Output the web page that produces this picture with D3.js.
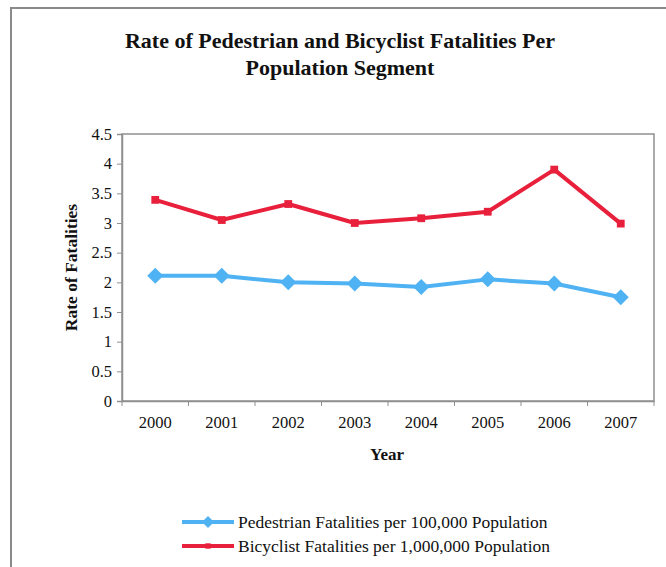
<!DOCTYPE html>
<html>
<head>
<meta charset="utf-8">
<script src="https://cdn.jsdelivr.net/npm/d3@7"></script>
<style>
  body { margin: 0; background: #fff; }
  svg text { font-family: "Liberation Serif", "Times New Roman", serif; fill: #111; }
</style>
</head>
<body>
<svg id="chart" width="666" height="567"></svg>
<script>
const years = ["2000", "2001", "2002", "2003", "2004", "2005", "2006", "2007"];
const pedestrian = [2.11, 2.11, 2.0, 1.98, 1.92, 2.05, 1.98, 1.75];
const bicyclist = [3.39, 3.05, 3.32, 3.0, 3.08, 3.19, 3.9, 2.99];
const yTicks = [0, 0.5, 1, 1.5, 2, 2.5, 3, 3.5, 4, 4.5];

const seriesList = [
    { name: "Pedestrian Fatalities per 100,000 Population", values: pedestrian, color: "#4fb2f3", marker: "diamond" },
    { name: "Bicyclist Fatalities per 1,000,000 Population", values: bicyclist, color: "#e8203b", marker: "square" }
];

const serif = "'Liberation Serif', 'Times New Roman', serif";
const svg = d3.select("#chart");
const margin = { left: 122, right: 12, top: 134, bottom: 166 };
const width = 666 - margin.left - margin.right;
const height = 567 - margin.top - margin.bottom;

// outer frame (only left/top edges show in the picture)
svg.append("path")
    .attr("d", "M11,567 V8 H666")
    .attr("fill", "none")
    .attr("stroke", "#8a8a8a")
    .attr("stroke-width", 2);

svg.append("text")
    .attr("x", 340).attr("y", 48)
    .attr("text-anchor", "middle")
    .attr("font-size", 22).attr("font-weight", "bold")
    .text("Rate of Pedestrian and Bicyclist Fatalities Per");
svg.append("text")
    .attr("x", 340).attr("y", 75)
    .attr("text-anchor", "middle")
    .attr("font-size", 22).attr("font-weight", "bold")
    .text("Population Segment");

const g = svg.append("g").attr("transform", `translate(${margin.left},${margin.top})`);

const x = d3.scaleBand().domain(years).range([0, width]);
const y = d3.scaleLinear().domain([0, 4.5]).range([height, 0]);

// plot area border
g.append("rect")
    .attr("width", width).attr("height", height)
    .attr("fill", "none")
    .attr("stroke", "#909090")
    .attr("stroke-width", 1.5);

const yAxis = g.append("g")
    .call(d3.axisLeft(y).tickValues(yTicks).tickSize(5).tickPadding(5).tickFormat(d3.format("")));
yAxis.select(".domain").attr("stroke", "#909090").attr("stroke-width", 1.5);
yAxis.selectAll(".tick line").attr("stroke", "#909090");
yAxis.selectAll("text").style("font-size", "16.5px").style("font-family", serif).attr("fill", "#111");

const xAxis = g.append("g")
    .attr("transform", `translate(0,${height})`)
    .call(d3.axisBottom(x).tickSize(0).tickPadding(15));
xAxis.select(".domain").attr("stroke", "#909090").attr("stroke-width", 1.5);
xAxis.selectAll("text").style("font-size", "16.5px").style("font-family", serif).attr("fill", "#111");

// category boundary ticks
g.append("g").selectAll("line")
    .data(years.concat(["end"]))
    .join("line")
    .attr("x1", (d, i) => i * x.step())
    .attr("x2", (d, i) => i * x.step())
    .attr("y1", height).attr("y2", height + 5)
    .attr("stroke", "#909090");

svg.append("text")
    .attr("transform", `translate(77,${margin.top + height / 2}) rotate(-90)`)
    .attr("text-anchor", "middle")
    .attr("font-size", 17.5).attr("font-weight", "bold")
    .text("Rate of Fatalities");

svg.append("text")
    .attr("x", margin.left + width / 2 - 1).attr("y", 460)
    .attr("text-anchor", "middle")
    .attr("font-size", 17).attr("font-weight", "bold")
    .text("Year");

const line = d3.line()
    .x((d, i) => x(years[i]) + x.bandwidth() / 2)
    .y(d => y(d));

function drawMarker(sel, type, size, color) {
    if (type === "diamond") {
        sel.append("path")
            .attr("d", `M0,${-size} L${size},0 L0,${size} L${-size},0 Z`)
            .attr("fill", color);
    } else {
        sel.append("rect")
            .attr("x", -size * 0.6).attr("y", -size * 0.6)
            .attr("width", size * 1.2).attr("height", size * 1.2)
            .attr("fill", color);
    }
}

seriesList.forEach(s => {
    g.append("path")
        .datum(s.values)
        .attr("fill", "none")
        .attr("stroke", s.color)
        .attr("stroke-width", 4)
        .attr("stroke-linejoin", "round")
        .attr("d", line);

    s.values.forEach((v, i) => {
        const m = g.append("g")
            .attr("transform", `translate(${x(years[i]) + x.bandwidth() / 2},${y(v)})`);
        drawMarker(m, s.marker, s.marker === "diamond" ? 8 : 6.5, s.color);
    });
});

// legend
const legend = svg.append("g").attr("transform", "translate(182,522)");
seriesList.forEach((s, i) => {
    const row = legend.append("g").attr("transform", `translate(0,${i * 24})`);
    row.append("line")
        .attr("x1", 0).attr("x2", 52)
        .attr("stroke", s.color).attr("stroke-width", 4);
    const m = row.append("g").attr("transform", "translate(26,0)");
    drawMarker(m, s.marker, s.marker === "diamond" ? 6 : 4.5, s.color);
    row.append("text")
        .attr("x", 56).attr("y", 6)
        .attr("font-size", 17.5)
        .text(s.name);
});
</script>
</body>
</html>
